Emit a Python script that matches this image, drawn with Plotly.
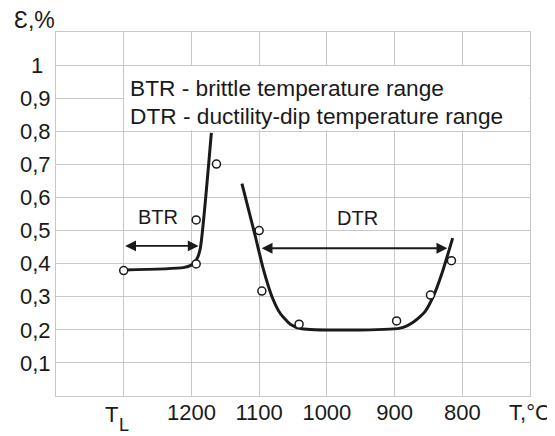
import plotly.graph_objects as go

# ---- data ----
tick_temps = [1300, 1200, 1100, 1000, 900, 800, 700]
tick_labels = ["", "1200", "1100", "1000", "900", "800", "T,°C"]
eps_ticks = [0.1, 0.2, 0.3, 0.4, 0.5, 0.6, 0.7, 0.8, 0.9, 1.0]
eps_tick_labels = ["0,1", "0,2", "0,3", "0,4", "0,5", "0,6", "0,7", "0,8", "0,9", ""]

btr_curve_T = [1300, 1212, 1200, 1192, 1187, 1170.6]
btr_curve_eps = [0.381, 0.388, 0.396, 0.414, 0.445, 0.795]

dtr_curve_T = [1125.4, 1105.6, 1093.5, 1081, 1069, 1054, 1037, 892, 872, 855, 843, 830, 814.2]
dtr_curve_eps = [0.6415, 0.482, 0.381, 0.30, 0.250, 0.217, 0.203, 0.205, 0.224, 0.255, 0.30, 0.371, 0.477]

point_T = [1300, 1193, 1193, 1163, 1100, 1096, 1041, 897, 847, 816]
point_eps = [0.379, 0.399, 0.532, 0.701, 0.50, 0.317, 0.217, 0.227, 0.305, 0.409]

btr_range = [1300, 1189.4]
btr_arrow_eps = 0.4536
dtr_range = [1098.4, 822.1]
dtr_arrow_eps = 0.4465

legend_lines = ["BTR - brittle temperature range", "DTR - ductility-dip temperature range"]

FONT = "Arial, 'Liberation Sans', sans-serif"
NARROW = "'Liberation Sans Narrow', 'Arial Narrow', Arial, sans-serif"
GRID = "#c8c8c8"
INK = "#1a1a1a"

fig = go.Figure()
fig.add_trace(go.Scatter(x=btr_curve_T, y=btr_curve_eps, mode="lines",
                         line=dict(color=INK, width=3, shape="spline", smoothing=0.6),
                         hoverinfo="skip"))
fig.add_trace(go.Scatter(x=dtr_curve_T, y=dtr_curve_eps, mode="lines",
                         line=dict(color=INK, width=3, shape="spline", smoothing=0.6),
                         hoverinfo="skip"))
fig.add_trace(go.Scatter(x=point_T, y=point_eps, mode="markers",
                         marker=dict(symbol="circle", size=8, color="white",
                                     line=dict(color=INK, width=1.5))))

# white box holding the legend text
fig.add_shape(type="rect", xref="x", yref="y", x0=1299, x1=701, y0=0.803, y1=0.997,
              fillcolor="white", line=dict(width=0), layer="between")

for i, txt in enumerate(legend_lines):
    fig.add_annotation(x=1294, y=[0.930, 0.845][i], xref="x", yref="y", text=txt,
                       showarrow=False, xanchor="left", yanchor="middle",
                       font=dict(family=FONT, size=22.7, color=INK))

# double-headed arrows
fig.add_annotation(x=btr_range[1], y=btr_arrow_eps, ax=btr_range[0], ay=btr_arrow_eps,
                   xref="x", yref="y", axref="x", ayref="y", text="", showarrow=True,
                   arrowhead=2, arrowside="end+start", arrowsize=1.2, arrowwidth=1.8,
                   arrowcolor=INK)
fig.add_annotation(x=dtr_range[1], y=dtr_arrow_eps, ax=dtr_range[0], ay=dtr_arrow_eps,
                   xref="x", yref="y", axref="x", ayref="y", text="", showarrow=True,
                   arrowhead=2, arrowside="end+start", arrowsize=1.2, arrowwidth=1.8,
                   arrowcolor=INK)
fig.add_annotation(x=1250, y=0.542, xref="x", yref="y", text="BTR", showarrow=False,
                   font=dict(family=NARROW, size=20, color=INK))
fig.add_annotation(x=954.6, y=0.538, xref="x", yref="y", text="DTR", showarrow=False,
                   font=dict(family=NARROW, size=20, color=INK))

# y-axis title and the top tick label "1"
fig.add_annotation(x=-0.0453, y=1.0325, xref="paper", yref="paper", text="Ɛ,%",
                   xanchor="center", yanchor="middle",
                   showarrow=False, font=dict(family=FONT, size=23, color=INK))
fig.add_annotation(x=-0.0396, y=1.0, xref="paper", yref="y", text="1",
                   xanchor="center", yanchor="middle",
                   showarrow=False, font=dict(family=FONT, size=22, color=INK))
# liquidus temperature label T_L
fig.add_annotation(x=0.1180, y=-0.0509, xref="paper", yref="paper", text="T",
                   xanchor="center", yanchor="middle", borderpad=0,
                   showarrow=False, font=dict(family=FONT, size=22, color=INK))
fig.add_annotation(x=0.1432, y=-0.0790, xref="paper", yref="paper", text="L",
                   xanchor="center", yanchor="middle", borderpad=0,
                   showarrow=False, font=dict(family=FONT, size=18, color=INK))

fig.update_layout(
    width=547, height=428,
    margin=dict(l=47.5, r=25, t=24.3, b=40.3, autoexpand=False),
    paper_bgcolor="white", plot_bgcolor="white",
    showlegend=False,
    font=dict(family=FONT, color=INK),
    xaxis=dict(range=[1400, 700], tickvals=tick_temps, ticktext=tick_labels,
               showgrid=True, gridcolor=GRID, gridwidth=1, zeroline=False,
               showline=True, linecolor=GRID, linewidth=1, mirror=True, automargin=False,
               ticks="", ticklabelstandoff=-3,
               tickfont=dict(size=22, family=FONT, color=INK)),
    yaxis=dict(range=[0, 1.1], tickvals=eps_ticks, ticktext=eps_tick_labels,
               showgrid=True, gridcolor=GRID, gridwidth=1, zeroline=False,
               showline=True, linecolor=GRID, linewidth=1, mirror=True, automargin=False,
               ticks="", tickfont=dict(size=22, family=FONT, color=INK)),
)

fig.write_html("out.html")
